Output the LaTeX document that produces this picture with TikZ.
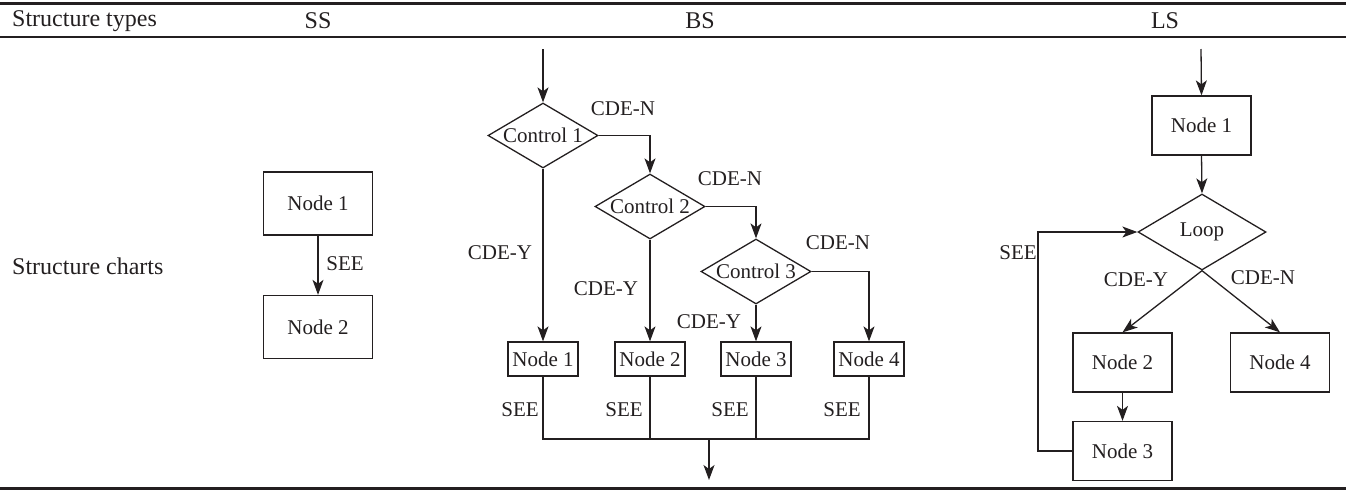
\documentclass[tikz,border=0pt]{standalone}
\usepackage{fontspec}
\setmainfont{Liberation Serif}
\usetikzlibrary{shapes.geometric,arrows.meta}
\definecolor{ink}{HTML}{231F20}
\begin{document}
\begin{tikzpicture}[x=1pt,y=-1pt,
  every node/.style={text=ink},
  tab/.style={font=\fontsize{24}{28}\selectfont, inner sep=0pt},
  lbl/.style={font=\fontsize{21}{24}\selectfont, inner sep=0pt},
  boxM/.style={draw=ink, line width=1.3pt, inner sep=0pt, minimum width=109pt, minimum height=63pt, font=\fontsize{21}{24}\selectfont},
  boxS/.style={draw=ink, line width=1.3pt, inner sep=0pt, minimum width=70pt, minimum height=34pt, font=\fontsize{21}{24}\selectfont},
  boxL/.style={draw=ink, line width=1.3pt, inner sep=0pt, minimum width=99pt, minimum height=59pt, font=\fontsize{21}{24}\selectfont},
  dia/.style={draw=ink, line width=1.3pt, diamond, aspect=1.7, inner sep=0pt, minimum width=110pt, minimum height=65pt, font=\fontsize{21}{24}\selectfont},
  conn/.style={draw=ink, line width=1.3pt},
  arr/.style={conn, -{Stealth[length=15pt,width=11pt,inset=4pt]}},
  rule/.style={draw=ink}
]
\useasboundingbox (0,0) rectangle (1346,491);
% table rules
\coordinate (r1a) at (0,3.5); \coordinate (r1b) at (1346,3.5);
\coordinate (r2a) at (0,37); \coordinate (r2b) at (1346,37);
\coordinate (r3a) at (0,488.5); \coordinate (r3b) at (1346,488.5);
\draw[rule, line width=3pt] (r1a) -- (r1b);
\draw[rule, line width=2pt] (r2a) -- (r2b);
\draw[rule, line width=3pt] (r3a) -- (r3b);
% headers
\node[tab, anchor=west] (h0) at (12,21) {Structure types};
\node[tab] (hss) at (318,21) {SS};
\node[tab] (hbs) at (700,21) {BS};
\node[tab] (hls) at (1165,21) {LS};
\node[tab, anchor=west] (rowlbl) at (12,266) {Structure charts};
% ---------- SS ----------
\node[boxM] (s1) at (318,203.5) {Node 1};
\node[boxM] (s2) at (318,327) {Node 2};
\draw[arr] (s1) -- (s2);
\node[lbl] (ssee) at (345,264) {SEE};
% ---------- BS ----------
\coordinate (bin) at (543,49);
\node[dia] (c1) at (543,135.5) {Control 1};
\node[dia] (c2) at (650,206.5) {Control 2};
\node[dia] (c3) at (756,271.5) {Control 3};
\node[boxS] (b1) at (543,359) {Node 1};
\node[boxS] (b2) at (650,359) {Node 2};
\node[boxS] (b3) at (756,359) {Node 3};
\node[boxS] (b4) at (869,359) {Node 4};
\draw[arr] (bin) -- (c1.north);
\draw[arr] (c1.east) -| (c2.north);
\draw[arr] (c2.east) -| (c3.north);
\draw[arr] (c3.east) -| (b4.north);
\draw[arr] (c1.south) -- (b1.north);
\draw[arr] (c2.south) -- (b2.north);
\draw[arr] (c3.south) -- (b3.north);
\coordinate (j1) at (543,439);
\coordinate (j4) at (869,439);
\coordinate (jm) at (709,439);
\coordinate (bout) at (709,480);
\draw[conn] (b1.south) -- (j1) -- (j4) -- (b4.south);
\draw[conn] (b2.south) -- (b2.south |- j1);
\draw[conn] (b3.south) -- (b3.south |- j1);
\draw[arr] (jm) -- (bout);
\node[lbl] (n1) at (623,109) {CDE-N};
\node[lbl] (n2) at (730,179) {CDE-N};
\node[lbl] (n3) at (838,243) {CDE-N};
\node[lbl] (y1) at (500,253) {CDE-Y};
\node[lbl] (y2) at (606,289) {CDE-Y};
\node[lbl] (y3) at (709,322) {CDE-Y};
\node[lbl] (e1) at (520,410) {SEE};
\node[lbl] (e2) at (624,410) {SEE};
\node[lbl] (e3) at (730,410) {SEE};
\node[lbl] (e4) at (842,410) {SEE};
% ---------- LS ----------
\coordinate (lin) at (1201,49);
\node[boxL] (l1) at (1201.5,125.5) {Node 1};
\node[dia, minimum width=128pt, minimum height=76pt] (loop) at (1202,232) {Loop};
\node[boxL] (l2) at (1122.5,362.5) {Node 2};
\node[boxL] (l4) at (1280,362.5) {Node 4};
\node[boxL] (l3) at (1122.5,451) {Node 3};
\draw[arr] (lin) -- (l1.north);
\draw[arr] (l1.south) -- (loop.north);
\draw[arr] (loop.south) -- (l2.north);
\draw[arr] (loop.south) -- (l4.north);
\draw[arr] (l2.south) -- (l3.north);
\coordinate (fb) at (1038,451);
\draw[arr] (l3.west) -- (fb) |- (loop.west);
\node[lbl] (lsee) at (1018,253) {SEE};
\node[lbl] (ly) at (1136,280) {CDE-Y};
\node[lbl] (ln) at (1263,278) {CDE-N};
\end{tikzpicture}
\end{document}
